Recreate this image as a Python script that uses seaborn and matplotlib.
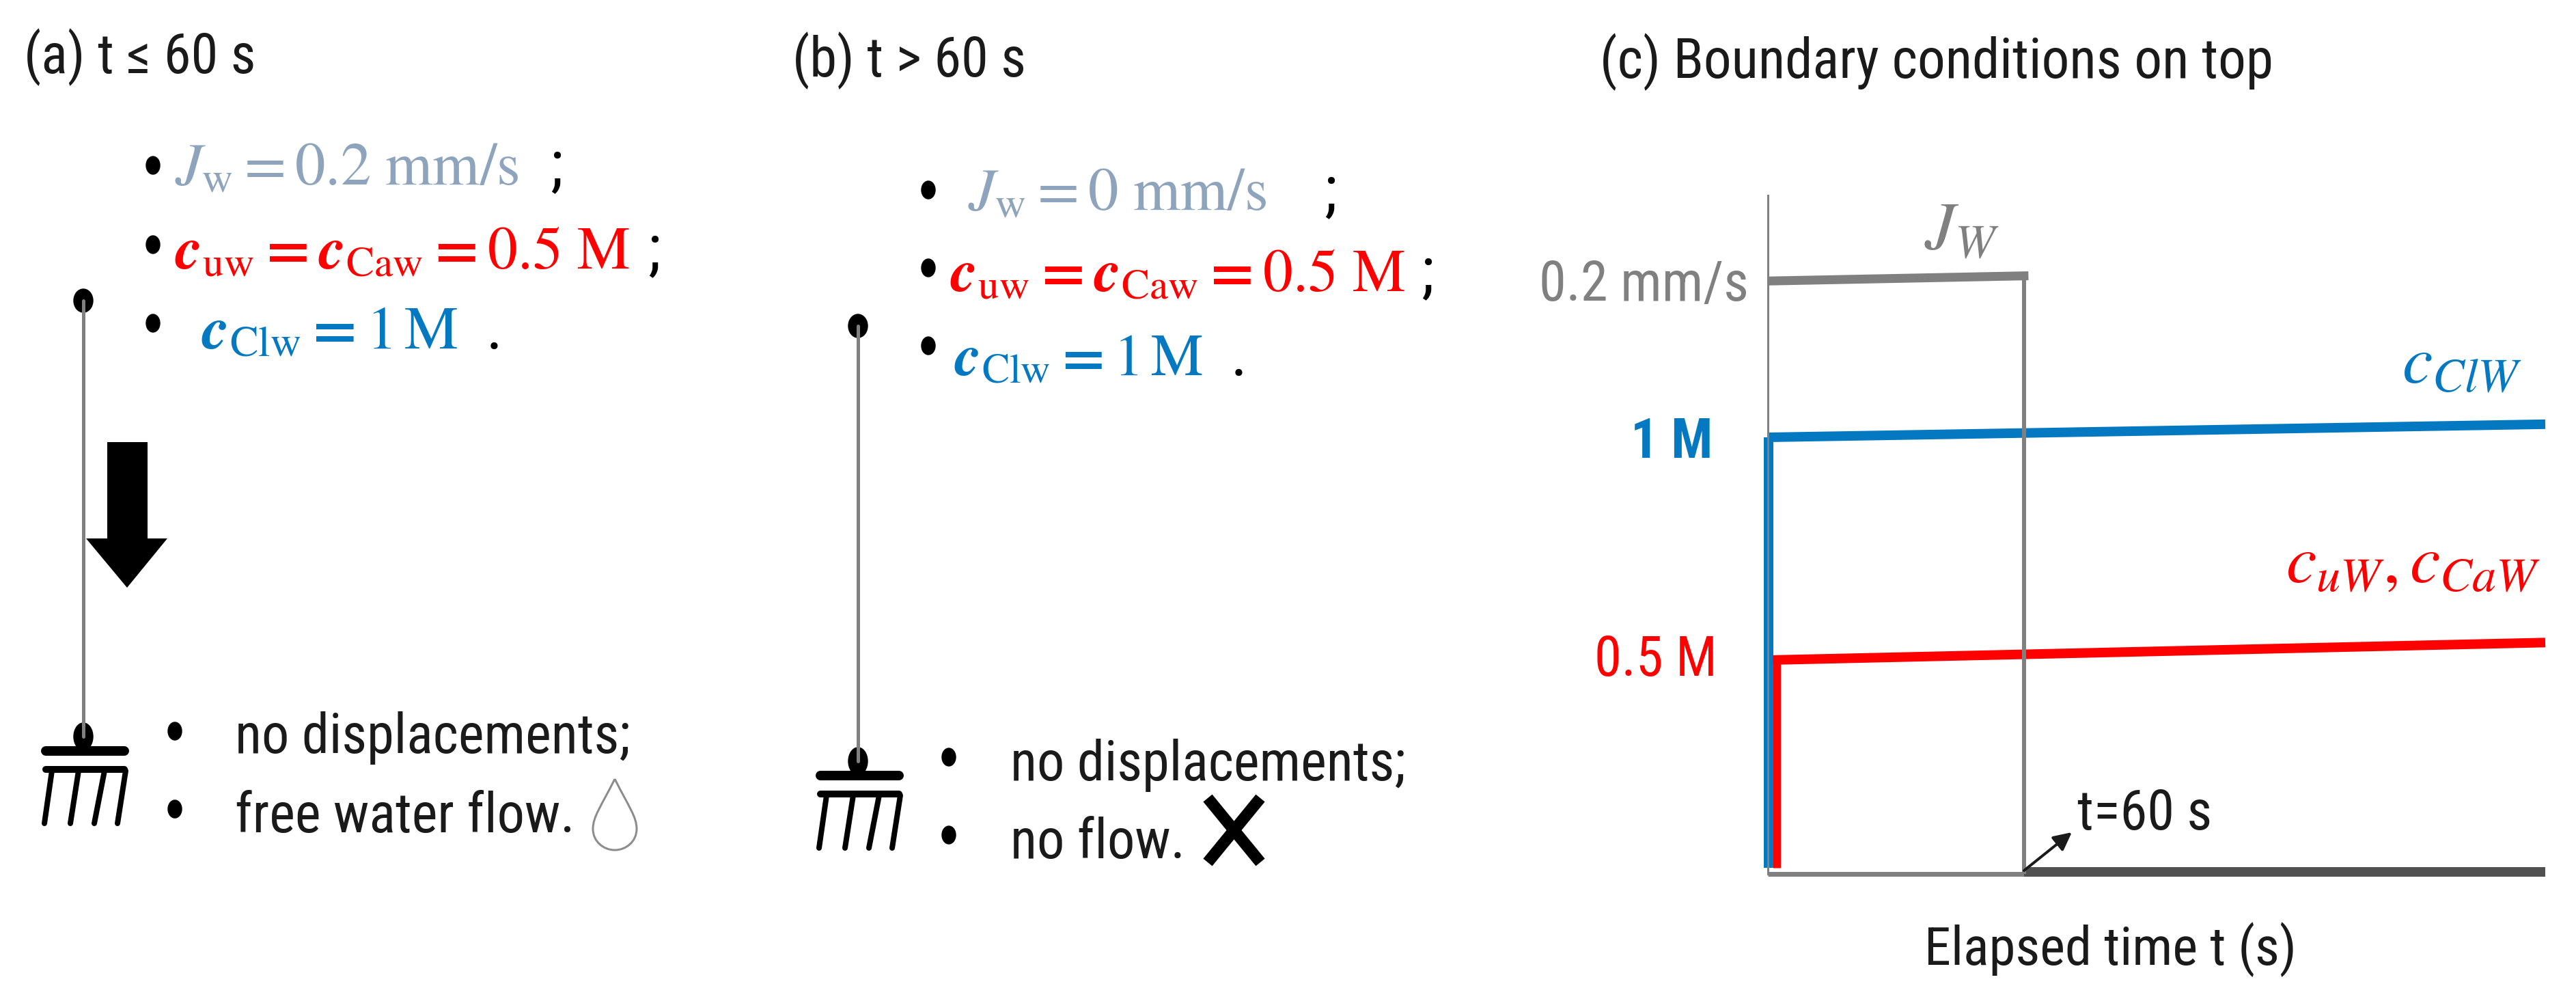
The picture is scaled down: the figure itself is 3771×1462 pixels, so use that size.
#!/usr/bin/env python3
import pandas as pd
import matplotlib
matplotlib.use('Agg')
import matplotlib.pyplot as plt
from matplotlib import font_manager
from matplotlib.patches import Ellipse, PathPatch, Polygon
from matplotlib.path import Path
import seaborn as sns

# panel (c) curves: time in s, level in M (the flux is drawn on the same height scale)
clw_rise_time = [0.2, 0.2]
clw_rise_level = [0.014, 1.0]
clw_time = [0, 182]
clw_level = [1.0, 1.03]
caw_rise_time = [2.1, 2.1]
caw_rise_level = [0.014, 0.49]
caw_time = [1.2, 182]
caw_level = [0.49, 0.53]
jw_time = [0, 61]
jw_level = [1.358, 1.37]
jw_drop_time = [60, 60]
jw_drop_level = [1.37, 0.0]
jw_off_time = [0, 60]
jw_off_level = [0.0, 0.0]
jw_after_time = [60, 182]
jw_after_level = [0.004, 0.004]

tick_levels = [1.36, 1.0, 0.5]
tick_labels = ["0.2 mm/s", "1 M", "0.5 M"]

GREY = "#808080"
FORMULA_GREY = "#8ea4bc"
RED = "#ff0000"
BLUE = "#0479c2"

W, H = 3771, 1462

# the labels are tall and narrow, take a condensed face if there is one
installed = {f.name for f in font_manager.fontManager.ttflist}
TEXT_FONT = "Lato"
TEXT_SIZE = 49
for name, size in [("Liberation Sans Narrow", 61), ("Roboto Condensed", 58), ("Open Sans Condensed", 60)]:
    if name in installed:
        TEXT_FONT = name
        TEXT_SIZE = size
        break
FORMULA_SIZE = 65


def px(n):
    # pixels to points at dpi 100
    return n * 0.72


def curve(ax, times, levels, color, width_px):
    df = pd.DataFrame({"time": times, "level": levels})
    sns.lineplot(data=df, x="time", y="level", color=color, linewidth=px(width_px),
                 estimator=None, sort=False, ax=ax, clip_on=False,
                 solid_capstyle="butt", solid_joinstyle="miter")


def rod_and_support(ov, x, top, bottom):
    # vertical rod with pinned ends and the fixed support under it
    ov.plot([x, x], [top, bottom], color=GREY, lw=px(5))
    ov.add_patch(Ellipse((x, top), 28, 34, color="black"))
    ov.add_patch(Ellipse((x, bottom), 28, 40, color="black"))
    ov.plot([x - 55, x + 60], [bottom + 21, bottom + 21], color="black", lw=px(14),
            solid_capstyle="round")
    ov.plot([x - 55, x + 60], [bottom + 48, bottom + 48], color="black", lw=px(10),
            solid_capstyle="round")
    for top_x, low_x in [(-46, -57), (-7, -19), (31, 16), (62, 50)]:
        ov.plot([x + top_x, x + low_x], [bottom + 50, bottom + 127], color="black",
                lw=px(8), solid_capstyle="round")


def bullet(ov, x, y):
    ov.add_patch(Ellipse((x, y), 20, 26, color="black"))


def label(ov, x, y, s, **kw):
    kw.setdefault("family", TEXT_FONT)
    kw.setdefault("fontsize", TEXT_SIZE)
    kw.setdefault("color", "#1a1a1a")
    ov.text(x, y, s, va="baseline", ha="left", **kw)


def formula(ov, x, y, s, color, size=FORMULA_SIZE):
    ov.text(x, y, s, va="baseline", ha="left", color=color, fontsize=size)


sns.set_theme(style="white")
plt.rcParams["font.family"] = [TEXT_FONT, "DejaVu Sans"]
plt.rcParams["mathtext.fontset"] = "stix"

fig = plt.figure(figsize=(W / 100, H / 100), dpi=100)
fig.patch.set_facecolor("white")

# panel (c) is a real axes, the schematics go on a pixel overlay
ax = fig.add_axes([2588 / W, 1 - 1279 / H, (3726 - 2588) / W, (1279 - 286) / H])
ax.set_xlim(0, 182)
ax.set_ylim(0, 1.554)
ax.patch.set_alpha(0)
for side in ["top", "right", "bottom"]:
    ax.spines[side].set_visible(False)
ax.spines["left"].set_color(GREY)
ax.spines["left"].set_linewidth(px(3))

curve(ax, jw_off_time, jw_off_level, GREY, 7)
curve(ax, jw_after_time, jw_after_level, "#505050", 14)
curve(ax, clw_rise_time, clw_rise_level, BLUE, 14)
curve(ax, clw_time, clw_level, BLUE, 14)
curve(ax, caw_rise_time, caw_rise_level, RED, 11)
curve(ax, caw_time, caw_level, RED, 14)
curve(ax, jw_time, jw_level, GREY, 13)
curve(ax, jw_drop_time, jw_drop_level, GREY, 6)

ax.set_xticks([])
ax.set_yticks([])
ax.set_xlabel("")
ax.set_ylabel("")

ov = fig.add_axes([0, 0, 1, 1])
ov.set_xlim(0, W)
ov.set_ylim(H, 0)
ov.axis("off")

# level labels beside panel (c)
tick_right = [2560, 2507, 2514]
tick_colors = [GREY, BLUE, RED]
tick_weights = ["normal", "bold", "normal"]
for lev, txt, right, col, wt in zip(tick_levels, tick_labels, tick_right, tick_colors, tick_weights):
    y = 1279 - lev * 639 + 30
    ov.text(right, y, txt, ha="right", va="baseline", color=col, family=TEXT_FONT,
            fontsize=TEXT_SIZE, fontweight=wt)

# titles
label(ov, 35, 107, "(a) t ≤ 60 s")
label(ov, 1160, 112, "(b) t > 60 s")
label(ov, 2342, 114, "(c) Boundary conditions on top", fontsize=TEXT_SIZE + 0.5)

RED_LINE = r"$\boldsymbol{c}_{\mathrm{uw}}\mathbf{=}\boldsymbol{c}_{\mathrm{Caw}}\mathbf{=}0.5\ \mathrm{M}$"

# panel (a) conditions
bullet(ov, 224, 242)
bullet(ov, 224, 358)
bullet(ov, 224, 473)
formula(ov, 256, 270, r"$J_{\mathrm{w}}=0.2\ \mathrm{mm/s}$", FORMULA_GREY, 64)
formula(ov, 805, 270, ";", "black")
formula(ov, 256, 393, RED_LINE, RED, 63)
formula(ov, 948, 393, ";", "black")
formula(ov, 295, 510, r"$\boldsymbol{c}_{\mathrm{Clw}}\mathbf{=}1\,\mathrm{M}$", BLUE, 64)
formula(ov, 712, 510, ".", "black")

# panel (b) conditions
bullet(ov, 1359, 278)
bullet(ov, 1359, 392)
bullet(ov, 1359, 506)
formula(ov, 1417, 307, r"$J_{\mathrm{w}}=0\ \mathrm{mm/s}$", FORMULA_GREY, 64)
formula(ov, 1938, 307, ";", "black")
formula(ov, 1391, 426, RED_LINE, RED, 63)
formula(ov, 2080, 426, ";", "black")
formula(ov, 1397, 549, r"$\boldsymbol{c}_{\mathrm{Clw}}\mathbf{=}1\,\mathrm{M}$", BLUE, 62)
formula(ov, 1802, 549, ".", "black")

# rods, supports
rod_and_support(ov, 122, 440, 1078)
rod_and_support(ov, 1256, 477, 1114)

# load arrow on panel (a)
ov.add_patch(Polygon([(157, 647), (216, 647), (216, 788), (245, 788), (186, 860),
                      (126, 788), (157, 788)], closed=True, color="black", lw=0))

# support notes
bullet(ov, 256, 1070)
bullet(ov, 256, 1184)
label(ov, 344, 1102, "no displacements;")
label(ov, 344, 1218, "free water flow.")
bullet(ov, 1389, 1108)
bullet(ov, 1389, 1222)
label(ov, 1479, 1142, "no displacements;")
label(ov, 1479, 1256, "no flow.")

# water drop
drop = Path([(900, 1140), (880, 1180), (868, 1195), (868, 1213),
             (868, 1232), (884, 1244), (900, 1244),
             (916, 1244), (932, 1232), (932, 1213),
             (932, 1195), (920, 1180), (900, 1140)],
            [Path.MOVETO] + [Path.CURVE4] * 12)
ov.add_patch(PathPatch(drop, fc="white", ec="#8c8c8c", lw=px(3)))

# cross for no flow
ov.plot([1768, 1845], [1262, 1168], color="black", lw=px(17), solid_capstyle="butt")
ov.plot([1768, 1845], [1168, 1262], color="black", lw=px(17), solid_capstyle="butt")

# annotations in panel (c)
ov.text(2817, 363, r"$J_{W}$", color=GREY, fontsize=72, va="baseline")
ov.text(3516, 559, r"$c_{ClW}$", color=BLUE, fontsize=72, va="baseline")
ov.text(3346, 851, r"$c_{uW},c_{CaW}$", color=RED, fontsize=72, va="baseline")
label(ov, 3041, 1214, "t=60 s")
label(ov, 2817, 1412, "Elapsed time t (s)", fontsize=TEXT_SIZE - 1.5)
ov.annotate("", xy=(3033, 1218), xytext=(2963, 1274),
            arrowprops=dict(arrowstyle="-|>", color="#1a1a1a", lw=px(4), mutation_scale=40,
                            shrinkA=0, shrinkB=0))

fig.savefig("out.png", dpi=100)
plt.close(fig)
